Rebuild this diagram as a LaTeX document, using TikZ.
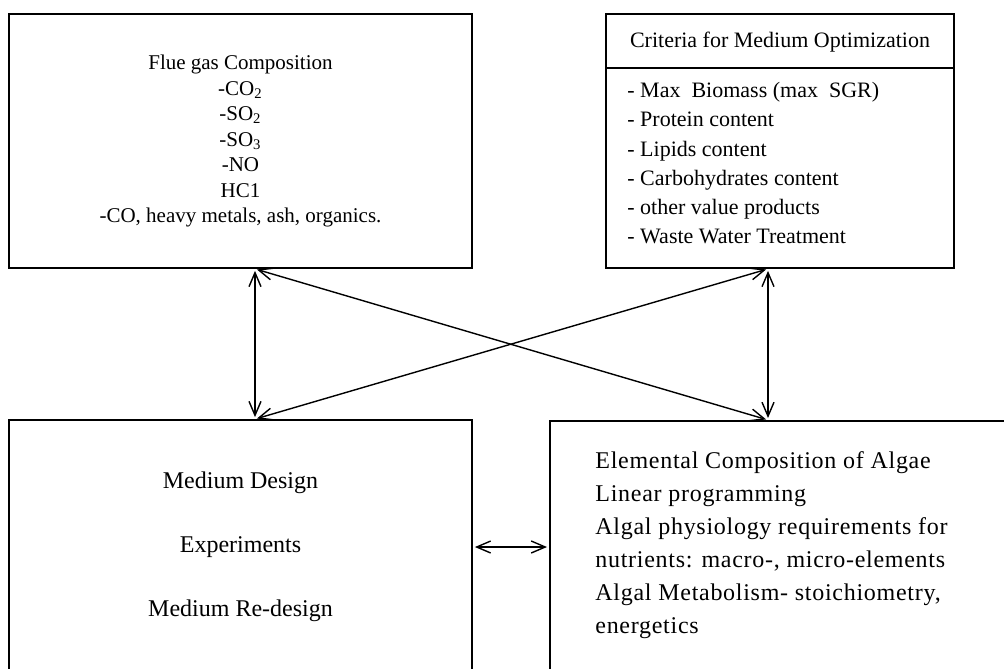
\documentclass[tikz,border=0pt]{standalone}
\usepackage{fontspec}
\setmainfont{Liberation Serif}
\usetikzlibrary{arrows.meta}

\tikzset{box/.style={draw, line width=0.9pt, inner sep=0pt},
	link/.style={{Straight Barb[length=7pt,width=6pt]}-{Straight Barb[length=7pt,width=6pt]}, line width=0.7pt, shorten <=1pt, shorten >=1pt}}

\begin{document}
\begin{tikzpicture}[x=0.5pt,y=-0.5pt]
	%\draw[help lines] (0,0) grid[step=100] (1004,668);
	\clip (0,0) rectangle (1004,668);
	\node[box, minimum width=231.5pt, minimum height=127pt, align=center, font=\fontsize{10.5}{12.75}\selectfont] (flue) at (240.5,141) {Flue gas Composition\\-CO\textsubscript{2}\\-SO\textsubscript{2}\\-SO\textsubscript{3}\\-NO\\HC1\\-CO, heavy metals, ash, organics.};
	\node[box, minimum width=174pt, minimum height=127pt] (crit) at (780,141) {};
	\draw[line width=0.9pt] ([yshift=-27.5pt]crit.north west) -- ([yshift=-27.5pt]crit.north east);
	\node[font=\fontsize{11}{13}\selectfont] (crittitle) at (780,42) {Criteria for Medium Optimization};
	\node[anchor=north west, align=left, inner sep=0pt, font=\fontsize{11}{14.6}\selectfont] (critlist) at (627,82) {- Max\ \ Biomass (max\ \ SGR)\\- Protein content\\- Lipids content\\- Carbohydrates content\\- other value products\\- Waste Water Treatment};
	\node[box, minimum width=231.5pt, minimum height=127pt, align=center, font=\fontsize{12}{32}\selectfont] (medium) at (240.5,547) {Medium Design\\Experiments\\Medium Re-design};
	\node[box, anchor=north west, minimum width=240pt, minimum height=150pt] (elem) at (549,420) {};
	\node[anchor=north west, align=left, inner sep=0pt, font=\fontsize{12}{16.5}\selectfont\addfontfeature{LetterSpace=3}] (elemtext) at (595,451) {Elemental Composition of Algae\\Linear programming\\Algal physiology requirements for\\nutrients: macro-, micro-elements\\Algal Metabolism- stoichiometry,\\energetics};
	\coordinate (lx) at (255,0);
	\coordinate (rx) at (768,0);
	\coordinate (hy) at (0,547);
	\draw[link] (flue.south -| lx) -- (medium.north -| lx);
	\draw[link] (crit.south -| rx) -- (elem.north -| rx);
	\draw[link] (flue.south -| lx) -- (elem.north -| rx);
	\draw[link] (medium.north -| lx) -- (crit.south -| rx);
	\draw[link] (medium.east |- hy) -- (elem.west |- hy);
\end{tikzpicture}
\end{document}
